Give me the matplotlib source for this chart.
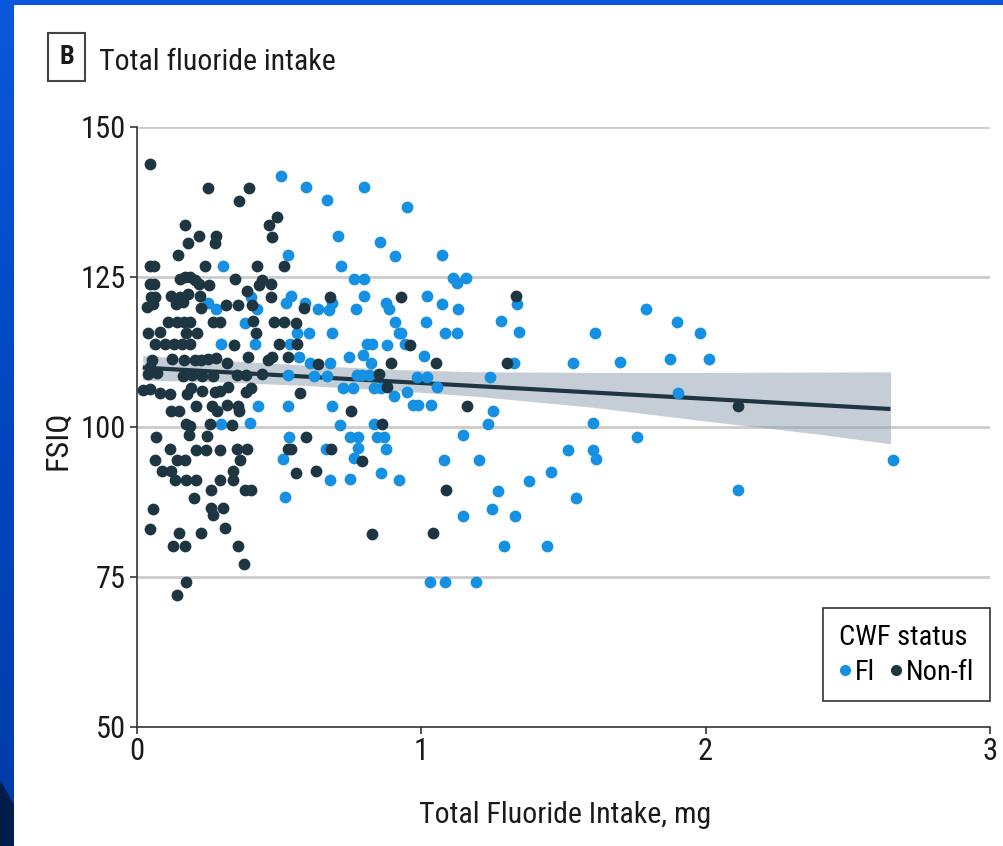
import numpy as np
import matplotlib.pyplot as plt
from matplotlib.patches import Rectangle, Polygon
from matplotlib.lines import Line2D

plt.rcParams['font.family'] = ['Roboto Condensed', 'DejaVu Sans Condensed',
                               'Open Sans Condensed', 'Liberation Sans Narrow',
                               'Roboto', 'DejaVu Sans']
plt.rcParams['font.stretch'] = 'condensed'

# children living in fluoridated communities (Fl)
fl_intake = [0.505, 0.594, 0.798, 0.668, 0.951, 0.707, 0.856, 0.530, 0.906, 1.074,
             0.717, 0.303, 0.762, 0.797, 1.110, 1.124, 1.157, 0.798, 0.540, 0.524,
             0.590, 0.636, 0.676, 0.685, 0.770, 0.877, 0.887, 0.906, 0.921, 0.606,
             0.685, 0.562, 0.538, 0.414, 0.808, 0.825, 0.880, 0.423, 0.400, 1.021,
             1.073, 1.129, 1.018, 0.927, 1.082, 1.124, 1.280, 1.337, 1.342, 0.942,
             1.010, 1.611, 1.791, 1.900, 1.981, 1.873, 2.010, 1.904, 1.326, 1.534,
             1.697, 0.985, 1.021, 1.055, 1.241, 0.948, 0.972, 0.989, 1.034, 1.251,
             1.235, 1.604, 1.147, 1.757, 1.515, 1.602, 1.616, 1.078, 1.203, 1.455,
             1.377, 0.923, 1.270, 1.545, 1.248, 1.146, 1.328, 1.289, 1.443, 1.032,
             1.084, 1.192, 2.659, 2.112, 0.249, 0.278, 0.381, 0.294, 0.425, 0.294,
             0.397, 0.532, 0.531, 0.570, 0.608, 0.679, 0.746, 0.794, 0.823, 0.623,
             0.667, 0.773, 0.791, 0.817, 0.723, 0.758, 0.833, 0.857, 0.904, 0.687,
             0.714, 0.833, 0.534, 0.749, 0.778, 0.843, 0.867, 0.664, 0.778, 0.874,
             0.512, 0.763, 0.679, 0.749, 0.859, 0.519]
fl_iq = [141.8, 140.0, 140.0, 137.8, 136.6, 131.9, 130.8, 128.6, 128.5, 128.6,
         126.8, 126.9, 124.7, 124.7, 124.8, 124.0, 124.9, 121.8, 121.8, 120.7,
         120.7, 119.7, 119.5, 120.7, 119.7, 120.6, 119.7, 117.5, 115.7, 115.7,
         115.7, 115.7, 113.8, 113.8, 113.8, 113.8, 113.7, 119.7, 121.7, 121.8,
         120.5, 119.6, 117.5, 115.6, 115.7, 115.7, 117.7, 120.5, 115.8, 113.8,
         111.8, 115.7, 119.6, 117.5, 115.7, 111.4, 111.4, 105.7, 110.7, 110.6,
         110.8, 108.4, 108.3, 106.6, 108.4, 105.8, 103.6, 103.6, 103.6, 102.7,
         100.5, 100.6, 98.6, 98.4, 96.2, 96.2, 94.7, 94.5, 94.5, 92.5,
         91.0, 91.2, 89.3, 88.2, 86.4, 85.1, 85.2, 80.2, 80.2, 74.1,
         74.1, 74.1, 94.5, 89.5, 120.6, 119.7, 117.4, 113.8, 103.5, 100.5,
         100.6, 103.5, 108.6, 111.6, 110.6, 110.6, 111.6, 112.0, 110.6, 108.5,
         108.5, 108.7, 108.7, 108.7, 106.5, 106.5, 106.5, 106.5, 105.2, 103.5,
         100.4, 100.5, 98.4, 98.3, 98.4, 98.3, 98.3, 96.3, 96.5, 96.3,
         94.6, 94.8, 91.1, 91.3, 92.3, 88.3]

# children living in non-fluoridated communities (Non-fl)
nonfl_intake = [0.047, 0.250, 0.393, 0.360, 0.169, 0.219, 0.179, 0.278, 0.273, 0.143,
                0.045, 0.060, 0.240, 0.422, 0.150, 0.169, 0.187, 0.203, 0.217, 0.253,
                0.345, 0.045, 0.060, 0.438, 0.430, 0.471, 0.050, 0.063, 0.121, 0.151,
                0.180, 0.222, 0.034, 0.056, 0.137, 0.163, 0.225, 0.313, 0.355, 0.387,
                0.406, 0.471, 0.516, 0.493, 0.465, 0.474, 0.109, 0.140, 0.164, 0.186,
                0.269, 0.292, 0.407, 0.482, 0.517, 0.558, 0.040, 0.081, 0.171, 0.211,
                0.418, 0.063, 0.097, 0.130, 0.160, 0.186, 0.342, 0.500, 0.562, 0.587,
                0.680, 0.051, 0.122, 0.167, 0.204, 0.225, 0.248, 0.278, 0.315, 0.389,
                0.462, 0.474, 0.532, 0.635, 0.046, 0.040, 0.069, 0.161, 0.194, 0.227,
                0.267, 0.351, 0.382, 0.441, 0.022, 0.044, 0.081, 0.116, 0.176, 0.190,
                0.230, 0.274, 0.292, 0.321, 0.383, 0.401, 0.575, 0.121, 0.149, 0.207,
                0.265, 0.280, 0.318, 0.356, 0.360, 0.172, 0.186, 0.255, 0.334, 0.067,
                0.183, 0.245, 0.596, 0.116, 0.209, 0.243, 0.292, 0.351, 0.387, 0.532,
                0.541, 0.682, 0.065, 0.141, 0.169, 0.361, 0.790, 0.087, 0.121, 0.133,
                0.173, 0.207, 0.292, 0.339, 0.339, 0.560, 0.629, 0.259, 0.379, 0.400,
                0.201, 0.055, 0.260, 0.267, 0.302, 0.046, 0.149, 0.226, 0.311, 0.128,
                0.169, 0.355, 0.377, 0.172, 0.142, 0.825, 1.040, 1.086, 1.333, 1.303,
                1.161, 1.051, 0.959, 0.927, 2.114, 0.892, 0.851, 0.879, 0.860, 0.752]
nonfl_iq = [143.9, 139.9, 139.9, 137.7, 133.7, 131.9, 130.6, 131.8, 130.7, 128.7,
            126.8, 126.8, 126.8, 126.8, 124.7, 125.0, 125.0, 124.5, 123.9, 123.7,
            124.7, 123.9, 123.9, 124.5, 123.7, 123.8, 121.7, 121.7, 121.8, 121.7,
            122.2, 121.8, 120.0, 120.5, 120.5, 120.9, 119.9, 120.4, 120.4, 122.7,
            120.3, 121.7, 126.8, 135.0, 133.7, 131.6, 117.5, 117.5, 117.5, 117.5,
            117.5, 117.5, 117.7, 117.5, 117.5, 117.4, 115.7, 115.9, 115.7, 115.7,
            115.7, 113.8, 113.8, 113.8, 113.8, 113.8, 113.6, 113.9, 113.8, 119.8,
            121.7, 111.2, 111.4, 111.2, 111.2, 111.2, 111.4, 111.5, 110.7, 111.6,
            111.2, 111.7, 111.7, 110.5, 110.0, 108.9, 109.0, 108.5, 108.7, 108.5,
            108.5, 108.6, 108.6, 108.8, 106.2, 106.3, 105.6, 105.5, 105.5, 106.5,
            106.0, 105.8, 106.0, 106.7, 105.8, 106.5, 105.6, 102.6, 102.6, 103.5,
            103.5, 102.6, 103.7, 103.5, 102.6, 100.5, 100.2, 100.5, 100.4, 98.4,
            98.6, 98.5, 98.3, 96.3, 96.1, 96.1, 96.2, 96.3, 96.3, 96.3,
            96.3, 96.4, 94.5, 94.5, 94.5, 94.5, 94.4, 92.6, 92.6, 91.1,
            91.1, 91.1, 91.2, 92.6, 91.2, 92.4, 92.6, 89.5, 89.5, 89.5,
            88.1, 86.3, 86.5, 85.3, 86.5, 83.0, 82.4, 82.3, 83.2, 80.2,
            80.2, 80.2, 77.1, 74.2, 72.0, 82.2, 82.3, 89.5, 121.8, 110.7,
            103.5, 110.6, 113.6, 121.7, 103.5, 110.6, 108.8, 106.6, 100.5, 102.6]

# linear fit and its 95% confidence band
fit_x = [0.02, 2.65]
fit_y = [109.9, 103.0]
band_x = [0.02, 0.3, 0.6, 0.9, 1.2, 1.6, 2.0, 2.4, 2.65]
band_lo = [107.8, 107.5, 106.9, 106.1, 105.1, 103.3, 101.0, 98.8, 97.2]
band_hi = [111.9, 111.1, 110.3, 109.6, 109.2, 109.1, 109.1, 109.15, 109.2]

blue = '#1590e2'
dark = '#1d3642'
W, H = 1004, 846

fig = plt.figure(figsize=(W / 100, H / 100), dpi=100)

# slide background: blue gradient strips around a white panel
bg = fig.add_axes([0, 0, 1, 1], zorder=-10)
bg.axis('off')
grad = np.linspace(0, 1, 256).reshape(-1, 1)
cmap = plt.matplotlib.colors.LinearSegmentedColormap.from_list('slide', ['#0b58dc', '#0046bf', '#003aa8'])
bg.imshow(grad, cmap=cmap, extent=(0, 1, 0, 1), aspect='auto')
bg.add_patch(Polygon([(0, 0), (14 / W, 0), (14 / W, 1 - 805 / H), (0, 1 - 780 / H)],
                     closed=True, color='#001c48', lw=0))
bg.add_patch(Rectangle((14 / W, 0), 1, 1 - 5 / H, color='white', lw=0))
bg.set_xlim(0, 1)
bg.set_ylim(0, 1)

ax = fig.add_axes([137 / W, 1 - 727 / H, 853 / W, 600 / H])
ax.set_facecolor('none')

ax.fill_between(band_x, band_lo, band_hi, color='#8d9fae', alpha=0.5, lw=0, zorder=2)
ax.plot(fit_x, fit_y, color=dark, lw=3, solid_capstyle='butt', zorder=3)
ax.scatter(fl_intake, fl_iq, s=72, color=blue, lw=0, zorder=4, clip_on=False)
ax.scatter(nonfl_intake, nonfl_iq, s=72, color=dark, lw=0, zorder=4, clip_on=False)

ax.set_xlim(0, 3)
ax.set_ylim(50, 150)
ax.set_xticks([0, 1, 2, 3])
ax.set_yticks([50, 75, 100, 125, 150])
for v in [75, 100, 125, 150]:
    ax.axhline(v, color='#cbcbcb', lw=2, zorder=1)

for side in ['top', 'right']:
    ax.spines[side].set_visible(False)
for side in ['left', 'bottom']:
    ax.spines[side].set_color('#333333')
    ax.spines[side].set_linewidth(1.2)
ax.tick_params(axis='both', colors='#333333', labelcolor='#1a1a1a',
               labelsize=22, length=5, width=1.2)
ax.tick_params(axis='y', pad=3)
ax.tick_params(axis='x', pad=2)

fig.text(58 / W, 1 - 440 / H, 'FSIQ', rotation=90, ha='center', va='center',
         fontsize=23, color='#1a1a1a')
fig.text(565 / W, 1 - 815 / H, 'Total Fluoride Intake, mg', ha='center', va='center',
         fontsize=21.5, color='#1a1a1a')

# panel label and title
fig.patches.append(Rectangle((48 / W, 1 - 81 / H), 37 / W, 48 / H, transform=fig.transFigure,
                             fill=False, edgecolor='#444444', lw=1.5))
fig.text(66.5 / W, 1 - 57 / H, 'B', ha='center', va='center', fontsize=19,
         fontweight='bold', color='#1a1a1a')
fig.text(99 / W, 1 - 69.5 / H, 'Total fluoride intake', ha='left', va='baseline',
         fontsize=21.5, color='#1a1a1a')

handles = [Line2D([], [], marker='o', ls='', color=blue, markersize=7),
           Line2D([], [], marker='o', ls='', color=dark, markersize=7)]
leg = ax.legend(handles, ['Fl', 'Non-fl'], title='CWF status', ncol=2,
                loc='lower right', bbox_to_anchor=(1.0, 0.043), borderaxespad=0,
                fontsize=20.5, title_fontsize=20.5, alignment='left', frameon=True,
                fancybox=False, framealpha=1, edgecolor='#333333',
                handlelength=0.4, handletextpad=0.15, columnspacing=0.55,
                borderpad=0.55, labelspacing=0.28)
leg.get_frame().set_linewidth(1.2)

fig.savefig('out.png', dpi=100)
